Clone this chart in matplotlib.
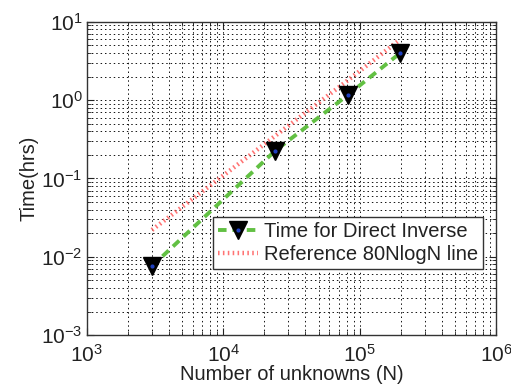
import matplotlib
matplotlib.use("Agg")
import matplotlib.pyplot as plt
from matplotlib.ticker import LogLocator, NullFormatter
from matplotlib.legend_handler import HandlerTuple

plt.rcParams['font.family'] = ['Liberation Sans', 'DejaVu Sans']
plt.rcParams['mathtext.fontset'] = 'custom'
plt.rcParams['mathtext.rm'] = 'Liberation Sans'
plt.rcParams['mathtext.it'] = 'Liberation Sans'

# Problem sizes and measured run times
unknowns = [3000, 24000, 82000, 197000]
time_direct_inverse = [0.0076, 0.226, 1.17, 3.98]

# Reference scaling line evaluated at the same sizes
ref_unknowns = [3000, 24000, 82000, 189000]
ref_time = [0.022, 0.35, 1.8, 5.6]

x_ticks = [1e3, 1e4, 1e5, 1e6]
y_ticks = [1e-3, 1e-2, 1e-1, 1e0, 1e1]

fig = plt.figure(figsize=(5.11, 3.91), dpi=100)
ax = fig.add_axes([0.170, 0.143, 0.801, 0.801])

green = '#62c043'
red = '#ff5a5a'

line_d, = ax.plot(unknowns, time_direct_inverse, color=green, lw=2.8,
                  linestyle=(0, (2.2, 1.5)), marker='v', ms=13,
                  mfc='black', mec='black', zorder=4)
dots, = ax.plot(unknowns, time_direct_inverse, linestyle='none', marker='o',
                ms=2.0, mfc='#2040c0', mec='#2040c0', zorder=5)
line_r, = ax.plot(ref_unknowns, ref_time, color=red, lw=3.2,
                  linestyle=(0, (0.35, 0.75)), alpha=0.85, zorder=3)

ax.set_xscale('log')
ax.set_yscale('log')
ax.set_xlim(1e3, 1e6)
ax.set_ylim(1e-3, 1e1)
ax.set_xticks(x_ticks)
ax.set_yticks(y_ticks)
ax.xaxis.set_minor_locator(LogLocator(base=10, subs=range(2, 10)))
ax.yaxis.set_minor_locator(LogLocator(base=10, subs=range(2, 10)))
ax.xaxis.set_minor_formatter(NullFormatter())
ax.yaxis.set_minor_formatter(NullFormatter())

ax.grid(True, which='both', color='#111111', linestyle=(0, (1.5, 3.0)), lw=0.7)
ax.set_axisbelow(True)

ax.tick_params(which='both', direction='in', top=True, right=True,
               labelsize=15, colors='#222222', pad=3)
ax.tick_params(axis='x', pad=6)
ax.tick_params(which='major', length=5)
ax.tick_params(which='minor', length=3)
for s in ax.spines.values():
    s.set_color('#333333')
    s.set_linewidth(1.0)

ax.set_xlabel('Number of unknowns (N)', fontsize=14.5, color='#222222', labelpad=0)
ax.set_ylabel('Time(hrs)', fontsize=14.5, color='#222222', labelpad=2)

leg = ax.legend([(line_d, dots), line_r],
                ['Time for Direct Inverse', 'Reference 80NlogN line'],
                handler_map={tuple: HandlerTuple(ndivide=1, pad=0)},
                loc='lower right', bbox_to_anchor=(0.969, 0.210),
                fontsize=14.5, frameon=True, fancybox=False, framealpha=1,
                edgecolor='#333333', handlelength=2.0, handletextpad=0.3,
                borderpad=0.25, labelspacing=0.2, borderaxespad=0)
leg.get_frame().set_linewidth(1.0)
for t in leg.get_texts():
    t.set_color('#222222')

fig.savefig('out.png', dpi=100)
